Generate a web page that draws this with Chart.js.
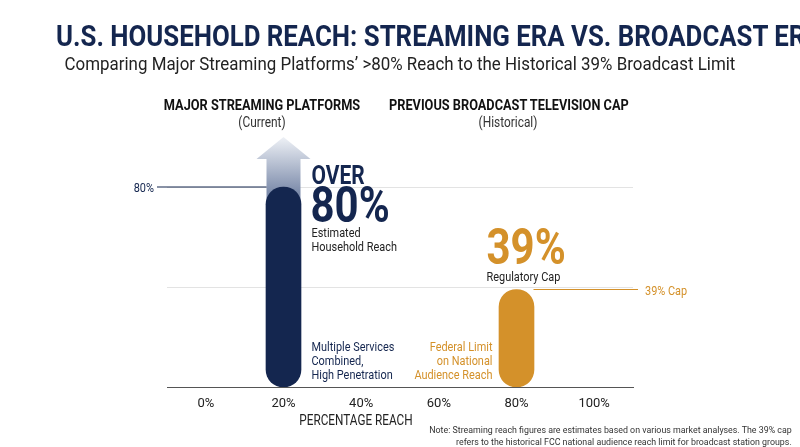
<!DOCTYPE html>
<html><head><meta charset="utf-8">
<script src="https://cdn.jsdelivr.net/npm/chart.js@4"></script>
<style>
body{margin:0;background:#fff;font-family:"Roboto",sans-serif;}
#wrap{position:relative;width:800px;height:447px;}
canvas{position:absolute;left:0;top:0;}
.t{position:absolute;white-space:nowrap;}
#title{left:0;width:800px;top:18px;text-align:center;font-weight:bold;font-size:30px;color:#14264f;transform:scaleX(0.86);}
#sub{left:0;width:800px;top:52px;text-align:center;font-size:19px;color:#222;transform:scaleX(0.89);}
.hd{top:96px;text-align:center;font-weight:bold;font-size:15px;color:#111;transform:scaleX(0.85);}
.hd span{display:block;font-weight:normal;font-size:14px;color:#333;}
#note{right:8px;top:424px;text-align:right;font-size:9.5px;color:#333;line-height:12px;transform:scaleX(0.93);transform-origin:right;}
</style></head><body>
<div id="wrap">
<canvas id="c" width="800" height="447"></canvas>
<div class="t" id="title">U.S. HOUSEHOLD REACH: STREAMING ERA VS. BROADCAST ERA CAP</div>
<div class="t" id="sub">Comparing Major Streaming Platforms’ &gt;80% Reach to the Historical 39% Broadcast Limit</div>
<div class="t hd" style="left:132px;width:260px;">MAJOR STREAMING PLATFORMS<span>(Current)</span></div>
<div class="t hd" style="left:368px;width:280px;">PREVIOUS BROADCAST TELEVISION CAP<span>(Historical)</span></div>
<div class="t" id="note">Note: Streaming reach figures are estimates based on various market analyses. The 39% cap<br>refers to the historical FCC national audience reach limit for broadcast station groups.</div>
</div>
<script>
// data
const categories = ["Major Streaming Platforms", "Previous Broadcast Cap"];
const positions = [20, 80];
const reach = [80, 39];
const colors = ["#14264f", "#d4912a"];
const xTicks = [0, 20, 40, 60, 80, 100];

const navy = "#14264f", gold = "#d4912a";
const F = '"Roboto",sans-serif';

// condensed text helper
function txt(ctx, s, x, y, align, sx) {
  ctx.save();
  ctx.translate(x, y);
  ctx.scale(sx || 0.84, 1);
  ctx.textAlign = align || "left";
  ctx.fillText(s, 0, 0);
  ctx.restore();
}

const deco = {
  id: "deco",
  beforeDatasetsDraw(chart) {
    const {ctx, scales: {x, y}} = chart;
    const cx = x.getPixelForValue(positions[0]);
    const y80 = y.getPixelForValue(reach[0]);
    const yTop = y.getPixelForValue(100);
    const g = ctx.createLinearGradient(0, yTop, 0, y80 + 5);
    g.addColorStop(0, "#eef1f6");
    g.addColorStop(1, "#7d8cab");
    ctx.save();
    ctx.fillStyle = g;
    ctx.beginPath();
    ctx.moveTo(cx, yTop);
    ctx.lineTo(cx + 27, yTop + 22);
    ctx.lineTo(cx + 17, yTop + 22);
    ctx.lineTo(cx + 17, y80 + 15);
    ctx.lineTo(cx - 17, y80 + 15);
    ctx.lineTo(cx - 17, yTop + 22);
    ctx.lineTo(cx - 27, yTop + 22);
    ctx.closePath();
    ctx.fill();
    ctx.strokeStyle = navy; ctx.lineWidth = 1.2;
    ctx.beginPath(); ctx.moveTo(x.left - 10, y80); ctx.lineTo(cx - 17, y80); ctx.stroke();
    const cx2 = x.getPixelForValue(positions[1]);
    const y39 = y.getPixelForValue(reach[1]);
    ctx.strokeStyle = gold;
    ctx.beginPath(); ctx.moveTo(cx2 + 17, y39); ctx.lineTo(x.right + 5, y39); ctx.stroke();
    ctx.restore();
  },
  afterDatasetsDraw(chart) {
    const {ctx, scales: {x, y}} = chart;
    const cx = x.getPixelForValue(positions[0]);
    const cx2 = x.getPixelForValue(positions[1]);
    const y80 = y.getPixelForValue(reach[0]);
    const y39 = y.getPixelForValue(reach[1]);
    const yb = y.getPixelForValue(0);
    ctx.save();
    ctx.textBaseline = "alphabetic";
    ctx.fillStyle = navy;
    ctx.font = "13px " + F; txt(ctx, "80%", x.left - 13, y80 + 5, "right");
    const lx = cx + 28;
    ctx.font = "bold 25px " + F; txt(ctx, "OVER", lx, y80 - 3);
    ctx.font = "bold 50px " + F; txt(ctx, "80%", lx - 1, y80 + 35);
    ctx.fillStyle = "#222"; ctx.font = "13px " + F;
    txt(ctx, "Estimated", lx, y80 + 50);
    txt(ctx, "Household Reach", lx, y80 + 64);
    ctx.fillStyle = navy;
    ["Multiple Services", "Combined,", "High Penetration"].forEach((s, i) => txt(ctx, s, lx, yb - 36 + i * 14));
    const gx = cx2 - 30;
    ctx.fillStyle = gold; ctx.font = "bold 50px " + F;
    txt(ctx, "39%", gx, y39 - 26);
    ctx.fillStyle = "#222"; ctx.font = "13px " + F;
    txt(ctx, "Regulatory Cap", gx, y39 - 9);
    ctx.fillStyle = gold;
    txt(ctx, "39% Cap", x.right + 12, y39 + 5);
    ["Federal Limit", "on National", "Audience Reach"].forEach((s, i) => txt(ctx, s, cx2 - 24, yb - 36 + i * 14, "right"));
    ctx.fillStyle = "#222"; ctx.font = "14px " + F;
    txt(ctx, "PERCENTAGE REACH", 356, 425, "center");
    ctx.restore();
  }
};

new Chart(document.getElementById("c"), {
  type: "bar",
  data: {
    datasets: [{
      label: "Household reach",
      data: positions.map((p, i) => ({x: p, y: reach[i]})),
      backgroundColor: colors,
      barThickness: 35,
      borderRadius: 17.5,
      borderSkipped: false
    }]
  },
  options: {
    responsive: false,
    animation: false,
    layout: {padding: {left: 167, right: 167, top: 137, bottom: 0}},
    plugins: {legend: {display: false}, tooltip: {enabled: false}},
    scales: {
      x: {
        type: "linear", min: 0, max: 100,
        afterBuildTicks: s => { s.ticks = xTicks.map(v => ({value: v})); },
        afterFit: s => { s.height = 60; },
        grid: {display: false, drawTicks: false},
        border: {color: "#555"},
        ticks: {callback: v => v + "%", color: "#222", font: {size: 13, family: F}, padding: 9}
      },
      y: {
        min: 0, max: 100, display: true,
        afterBuildTicks: s => { s.ticks = [40, 80].map(v => ({value: v})); },
        afterFit: s => { s.width = 0; },
        grid: {color: "#e3e3e3", drawTicks: false},
        border: {display: false},
        ticks: {display: false}
      }
    }
  },
  plugins: [deco]
});
</script>
</body></html>
